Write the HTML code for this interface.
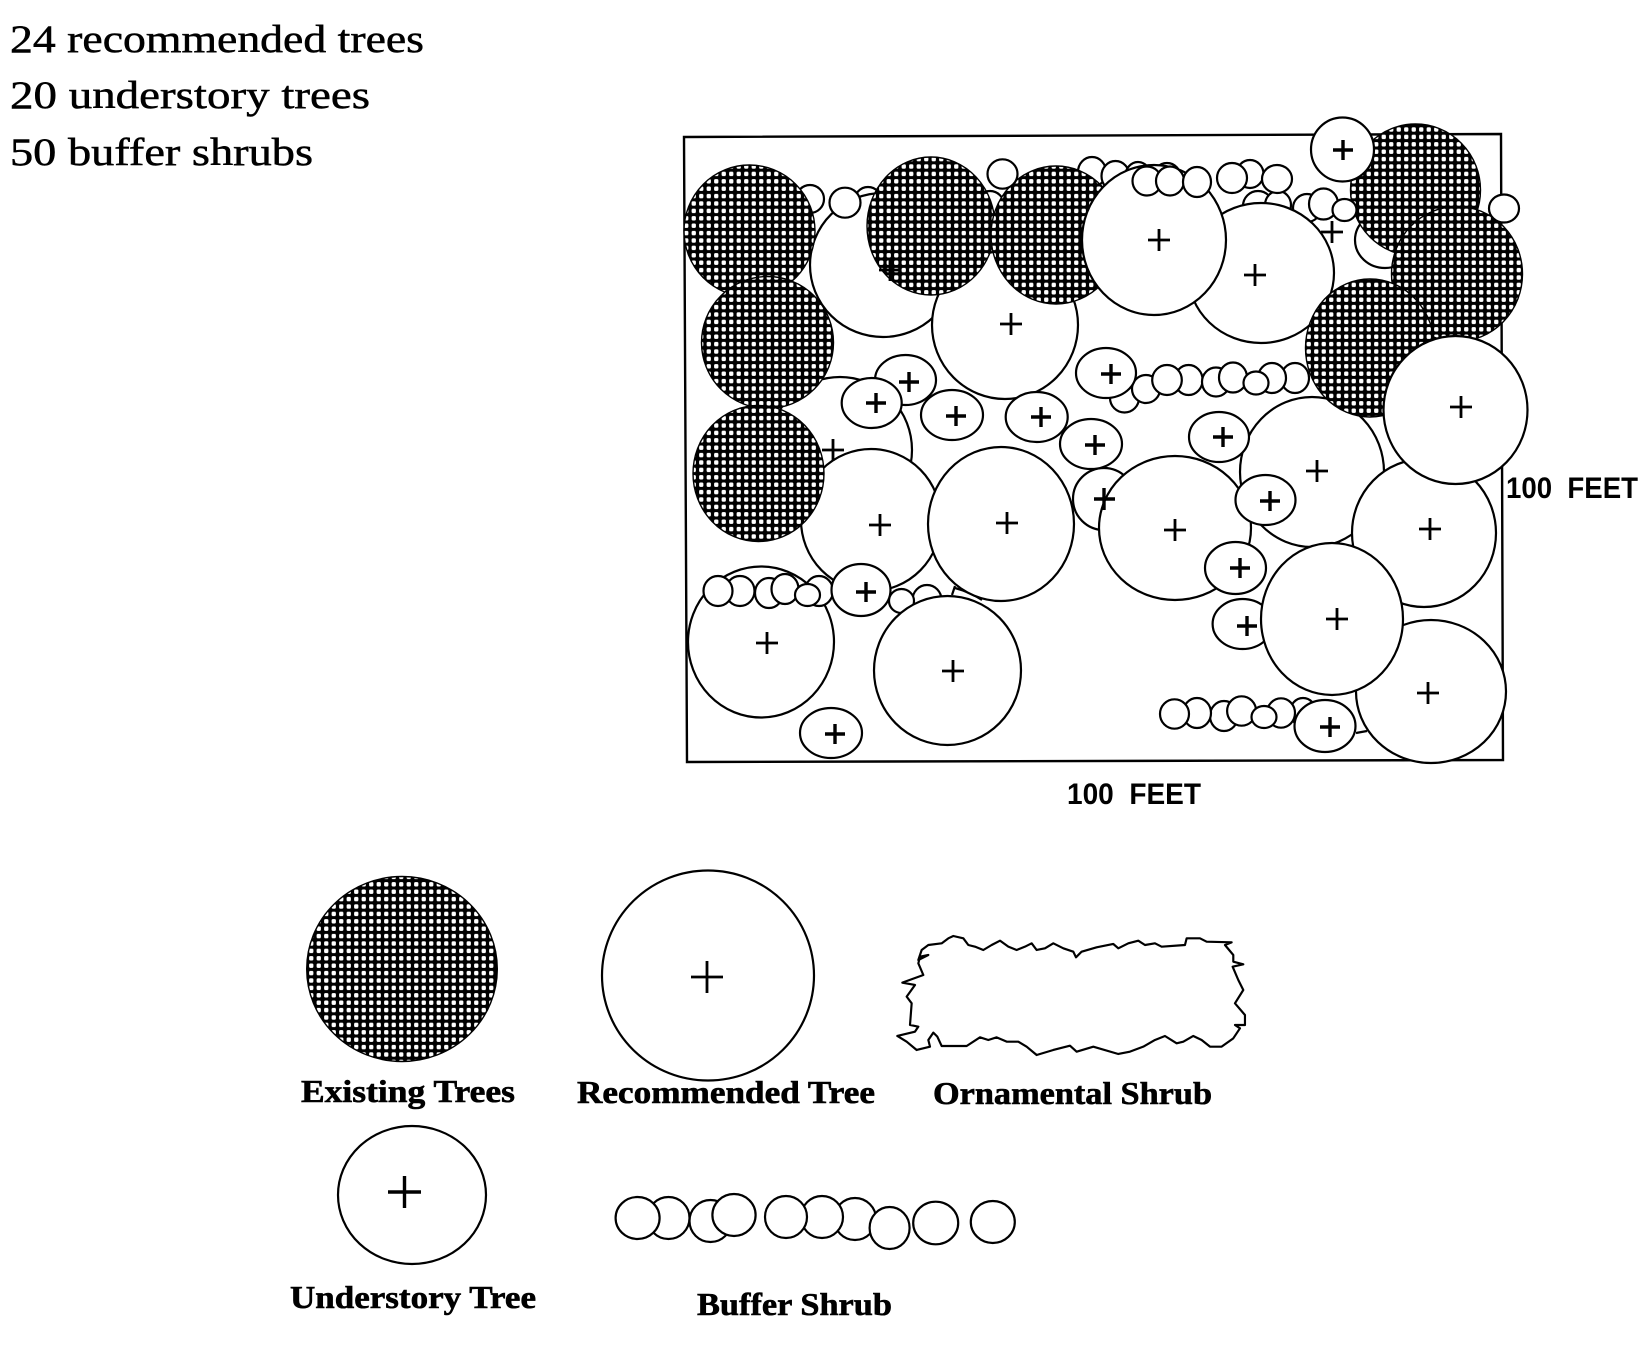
<!DOCTYPE html>
<html lang="en"><head><meta charset="utf-8"><title>Tree planting plan</title>
<style>
html,body{margin:0;padding:0;background:#fff}
svg{display:block}
ellipse{fill:#fff;stroke:#000;stroke-width:2.2}
ellipse.e{fill:url(#h);stroke-width:1.4}
.p{fill:none;stroke:#000;stroke-width:2.8}
.q{fill:none;stroke:#000;stroke-width:3.4}
.t{font-family:"Liberation Serif",serif;font-size:39px;fill:#000;stroke:#000;stroke-width:.5}
.b{font-family:"Liberation Serif",serif;font-size:32px;font-weight:bold;fill:#000;stroke:#000;stroke-width:.6}
.s{font-family:"Liberation Sans",sans-serif;font-size:30px;font-weight:bold;fill:#000}
</style></head><body>
<svg xmlns="http://www.w3.org/2000/svg" width="1641" height="1350" viewBox="0 0 1641 1350">
<defs><pattern id="h" patternUnits="userSpaceOnUse" width="7.5" height="7.4">
<rect width="7.5" height="7.4" fill="#000"/><rect x="1.6" y="1.5" width="4.3" height="4.4" rx="1.4" fill="#fff"/></pattern></defs>
<rect width="1641" height="1350" fill="#fff"/>

<text class="t" x="10" y="52" textLength="414" lengthAdjust="spacingAndGlyphs">24 recommended trees</text>
<text class="t" x="10" y="108" textLength="360" lengthAdjust="spacingAndGlyphs">20 understory trees</text>
<text class="t" x="10" y="165" textLength="303" lengthAdjust="spacingAndGlyphs">50 buffer shrubs</text>

<polygon points="684,137 1501,134 1503,760 687,762" fill="#fff" stroke="#000" stroke-width="2.4"/>

<!-- shrubs hidden behind trees -->
<ellipse cx="810" cy="199" rx="14" ry="14"/>
<ellipse cx="868" cy="202" rx="14" ry="15"/>
<ellipse cx="990" cy="205" rx="14" ry="14"/>
<ellipse cx="1092" cy="172" rx="14" ry="15"/>
<ellipse cx="1115.5" cy="176" rx="14" ry="15"/>
<ellipse cx="1138" cy="177" rx="13" ry="15"/>
<ellipse cx="1167" cy="178" rx="14" ry="15"/>
<ellipse cx="1258" cy="206" rx="15" ry="15"/>
<ellipse cx="1278" cy="205" rx="13" ry="14"/>

<!-- trees, back to front -->
<ellipse cx="840" cy="450" rx="72" ry="73"/>
<ellipse cx="883" cy="265" rx="73" ry="72"/>
<ellipse cx="1005" cy="325" rx="73" ry="74"/>
<ellipse cx="1385" cy="240" rx="30" ry="28"/>
<ellipse class="e" cx="1415.5" cy="190" rx="65" ry="66"/>
<ellipse class="e" cx="1457" cy="274" rx="65.5" ry="67.5"/>
<ellipse cx="1307" cy="208" rx="14" ry="14"/>
<ellipse cx="1323.5" cy="204" rx="14.5" ry="15.5"/>
<ellipse cx="1344.5" cy="210" rx="12" ry="11"/>
<ellipse cx="1261" cy="273" rx="73" ry="70"/>
<ellipse cx="1312" cy="472" rx="72" ry="75"/>
<ellipse class="e" cx="1370" cy="348" rx="64.5" ry="69"/>
<ellipse class="e" cx="931" cy="226" rx="64" ry="69"/>
<ellipse class="e" cx="1056" cy="235" rx="65" ry="69"/>
<ellipse cx="1154" cy="240" rx="72" ry="75"/>
<ellipse cx="1147" cy="181" rx="14.5" ry="14.5"/>
<ellipse cx="1170" cy="181" rx="14" ry="14.5"/>
<ellipse cx="1197" cy="182" rx="14" ry="15"/>
<ellipse cx="1250" cy="174" rx="13.5" ry="14"/>
<ellipse cx="1232" cy="178" rx="15" ry="15"/>
<ellipse cx="1277" cy="179" rx="15" ry="14"/>
<ellipse cx="1002.5" cy="174" rx="15" ry="14.7"/>
<ellipse cx="845" cy="202.7" rx="15.5" ry="15"/>
<ellipse class="e" cx="749.5" cy="231" rx="65.5" ry="66"/>
<ellipse class="e" cx="767.5" cy="342.5" rx="66" ry="66"/>
<ellipse cx="871" cy="520" rx="70" ry="71"/>
<ellipse class="e" cx="758.5" cy="473.5" rx="65.5" ry="68"/>
<ellipse cx="905.5" cy="380" rx="30.5" ry="25"/>
<ellipse cx="871.7" cy="403" rx="30" ry="25"/>
<ellipse cx="952" cy="415" rx="31" ry="25"/>
<ellipse cx="1036.7" cy="417" rx="31" ry="25"/>
<path d="M955 586 L952 595 M955 588 Q970 592 982 600" fill="none" stroke="#000" stroke-width="2.2"/>
<ellipse cx="1001" cy="524" rx="73" ry="77"/>
<ellipse cx="1104" cy="499" rx="31" ry="31"/>
<ellipse cx="1175" cy="528" rx="76" ry="72"/>
<ellipse cx="1091" cy="444" rx="31" ry="25"/>
<ellipse cx="1219" cy="437" rx="30" ry="25"/>

<!-- middle shrub row -->
<ellipse cx="1124.5" cy="398" rx="14.5" ry="14.5"/>
<ellipse cx="1146" cy="389" rx="14" ry="14"/>
<ellipse cx="1188.6" cy="380" rx="14" ry="15"/>
<ellipse cx="1167" cy="380" rx="14.8" ry="15"/>
<ellipse cx="1295" cy="378" rx="14" ry="15"/>
<ellipse cx="1272" cy="378" rx="14" ry="15"/>
<ellipse cx="1216" cy="382" rx="14" ry="14.5"/>
<ellipse cx="1233" cy="377.5" rx="14" ry="15"/>
<ellipse cx="1256" cy="383" rx="12.5" ry="11.5"/>
<ellipse cx="1106" cy="373" rx="30" ry="25"/>

<ellipse cx="1424" cy="533" rx="72" ry="74"/>
<ellipse cx="1455.5" cy="410" rx="72" ry="74"/>
<ellipse cx="1504" cy="208.5" rx="15" ry="14"/>
<ellipse cx="1431" cy="691.5" rx="75" ry="71.5"/>
<ellipse cx="1242.6" cy="624" rx="30" ry="25"/>
<ellipse cx="1332" cy="619" rx="71" ry="76"/>
<ellipse cx="1265.5" cy="500" rx="30" ry="25"/>
<ellipse cx="1235.5" cy="568" rx="30.5" ry="26"/>
<ellipse cx="1342.5" cy="149.5" rx="31.5" ry="32"/>

<!-- lower left group -->
<ellipse cx="761" cy="642" rx="73" ry="75.5"/>
<ellipse cx="819" cy="591" rx="14" ry="15"/>
<ellipse cx="769" cy="593" rx="14" ry="15"/>
<ellipse cx="740" cy="591" rx="14.5" ry="15"/>
<ellipse cx="718" cy="591" rx="14.5" ry="15"/>
<ellipse cx="785" cy="589" rx="13.5" ry="15"/>
<ellipse cx="807.5" cy="595" rx="12.5" ry="11"/>
<ellipse cx="927" cy="600" rx="14.5" ry="15"/>
<ellipse cx="901.5" cy="601" rx="12.5" ry="12"/>
<ellipse cx="861" cy="590" rx="29.5" ry="26"/>
<ellipse cx="947.5" cy="670.5" rx="73.5" ry="74.5"/>
<ellipse cx="831" cy="733" rx="31" ry="25"/>

<!-- lower right shrub row -->
<ellipse cx="1303" cy="712" rx="13" ry="14"/>
<ellipse cx="1325" cy="726" rx="30.5" ry="26"/>
<ellipse cx="1224" cy="716" rx="14" ry="15"/>
<ellipse cx="1197" cy="713" rx="14" ry="15"/>
<ellipse cx="1174.5" cy="714" rx="14.5" ry="14.7"/>
<ellipse cx="1241.6" cy="711" rx="14.5" ry="14.7"/>
<ellipse cx="1281" cy="713" rx="14" ry="14.7"/>
<ellipse cx="1264" cy="717" rx="12.5" ry="11"/>
<path d="M1356 733 L1367 731" fill="none" stroke="#000" stroke-width="2.2"/>

<!-- recommended-tree plus marks -->
<path class="p" d="M879 270h22M890 259v22M1000 324h22M1011 313v22M1148 240h22M1159 229v22M1244 275h22M1255 264v22M1450 407h22M1461 396v22M1306 471h22M1317 460v22M1419 529h22M1430 518v22M1164 530h22M1175 519v22M869 525h22M880 514v22M996 523h22M1007 512v22M756 643h22M767 632v22M942 671h22M953 660v22M1326 619h22M1337 608v22M1417 693h22M1428 682v22M822 450h22M833 439v22M1321 232h22M1332 221v22"/>
<!-- understory plus marks -->
<path class="q" d="M899 382h20M909 372v20M866 403h20M876 393v20M946 416h20M956 406v20M1031 417h20M1041 407v20M1085 445h20M1095 435v20M1094 499h21M1104 488v22M1101 374h20M1111 364v20M1213 437h20M1223 427v20M1260 501h20M1270 491v20M1230 568h20M1240 558v20M1237 626h20M1247 616v20M1320 727h20M1330 717v20M856 592h20M866 582v20M825 734h20M835 724v20M1333 150h20M1343 140v20"/>

<text class="s" x="1067" y="804" textLength="134" lengthAdjust="spacingAndGlyphs">100&#160;&#160;FEET</text>
<text class="s" x="1506" y="498" textLength="132" lengthAdjust="spacingAndGlyphs">100&#160;&#160;FEET</text>

<!-- legend -->
<ellipse class="e" cx="402" cy="969" rx="95.3" ry="92.5"/>
<ellipse cx="708" cy="975.5" rx="106" ry="105"/>
<path class="p" d="M691 977h32M707 961v32"/>
<ellipse cx="412" cy="1195" rx="74" ry="69"/>
<path class="q" d="M388 1192h33M404.5 1176v32"/>

<ellipse cx="668.5" cy="1218" rx="21" ry="21"/>
<ellipse cx="637.6" cy="1218" rx="22" ry="21"/>
<ellipse cx="710.5" cy="1221" rx="21" ry="21"/>
<ellipse cx="734" cy="1215" rx="21.6" ry="21"/>
<ellipse cx="855" cy="1219" rx="21" ry="21"/>
<ellipse cx="822" cy="1217" rx="21" ry="21"/>
<ellipse cx="786" cy="1217" rx="21" ry="21"/>
<ellipse cx="889.6" cy="1228" rx="20" ry="21"/>
<ellipse cx="935.7" cy="1223" rx="22.5" ry="21.3"/>
<ellipse cx="992.8" cy="1222" rx="22" ry="21"/>

<g transform="translate(860 900) scale(.3333)">
<path fill="#fff" stroke="#000" stroke-width="6.5" stroke-linejoin="round" d="M185 150L205 135 245 130 265 115 280 108 310 115 325 135 345 140 370 150 395 135 420 122 445 140 470 150 495 140 515 130 530 150 555 145 580 130 610 145 640 155 648 172 665 155 710 142 760 132 775 145 805 130 835 122 855 135 885 130 905 140 975 135 980 115 1020 115 1040 125 1115 127 1095 135 1120 165 1120 185 1150 193 1118 200 1135 240 1150 270 1125 310 1155 345 1155 375 1125 375 1140 385 1120 415 1085 440 1050 440 1025 420 1000 408 970 425 950 430 915 408 885 420 850 440 810 455 775 462 700 440 650 455 630 437 580 450 530 465 500 440 475 425 440 425 410 412 385 420 360 412 320 438 245 438 232 410 220 398 205 420 210 440 170 450 140 425 112 408 165 395 175 380 150 375 155 310 140 290 165 255 127 248 190 225 175 190 180 170 205 165 175 180Z"/>
</g>

<text class="b" x="301" y="1102" textLength="214" lengthAdjust="spacingAndGlyphs">Existing Trees</text>
<text class="b" x="577" y="1103" textLength="298" lengthAdjust="spacingAndGlyphs">Recommended Tree</text>
<text class="b" x="933" y="1104" textLength="279" lengthAdjust="spacingAndGlyphs">Ornamental Shrub</text>
<text class="b" x="290" y="1308" textLength="246" lengthAdjust="spacingAndGlyphs">Understory Tree</text>
<text class="b" x="697" y="1315" textLength="195" lengthAdjust="spacingAndGlyphs">Buffer Shrub</text>
</svg>
</body></html>
